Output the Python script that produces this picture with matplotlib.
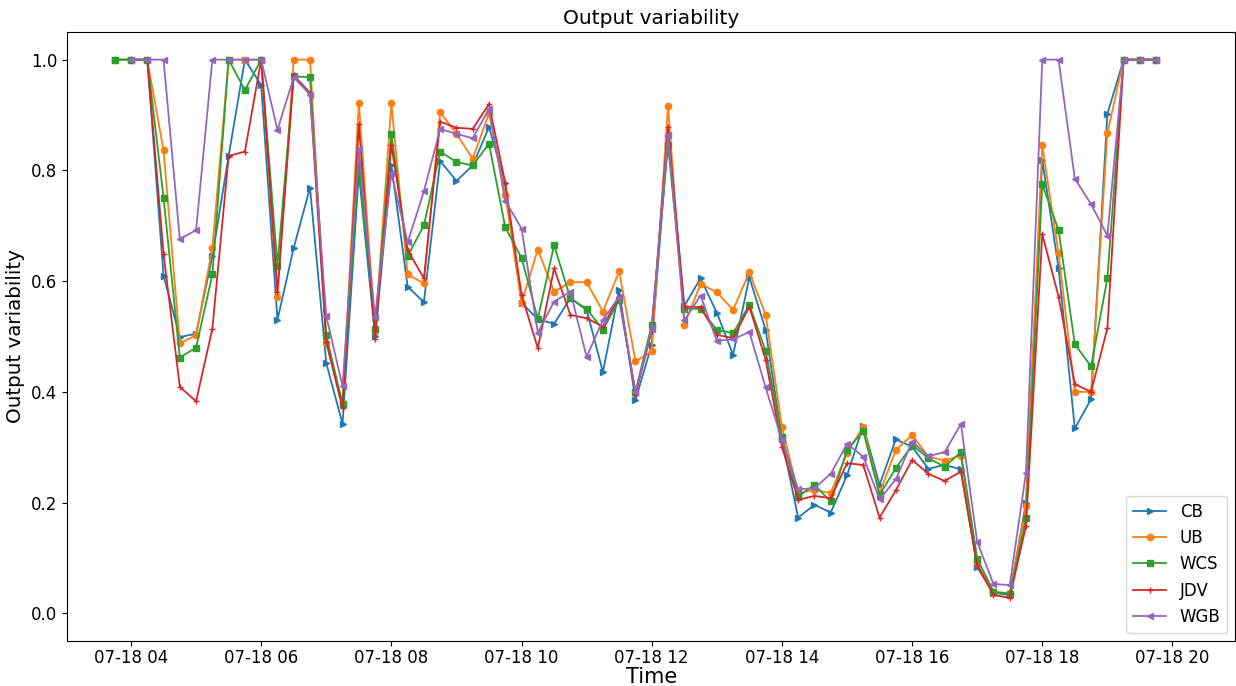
import numpy as np
import pandas as pd
import matplotlib
matplotlib.use("Agg")
import matplotlib.pyplot as plt
import matplotlib.dates as mdates

# 15-minute samples over the day
times = pd.date_range("2023-07-18 03:45", periods=65, freq="15min")

nan = np.nan
cb = [1.0, 1.0, 1.0, 0.610, 0.499, 0.505, 0.645, 0.826, 1.0, 0.954,
      0.530, 0.660, 0.769, 0.452, 0.342, 0.796, 0.500, 0.810, 0.590, 0.562,
      0.817, 0.781, 0.809, 0.878, 0.777, 0.561, 0.531, 0.523, 0.569, 0.548,
      0.436, 0.584, 0.385, 0.485, 0.860, 0.555, 0.605, 0.543, 0.467, 0.607,
      0.512, 0.314, 0.173, 0.196, 0.182, 0.249, 0.339, 0.232, 0.314, 0.301,
      0.261, 0.268, 0.260, 0.083, 0.037, 0.033, 0.200, 0.819, 0.624, 0.334,
      0.387, 0.902, 1.0, 1.0, 1.0]
ub = [1.0, 1.0, 1.0, 0.836, 0.488, 0.502, 0.660, 1.0, 1.0, 1.0,
      0.571, 1.0, 1.0, 0.488, 0.380, 0.922, 0.510, 0.921, 0.612, 0.596,
      0.905, 0.866, 0.821, 0.903, 0.756, 0.561, 0.657, 0.581, 0.598, 0.598,
      0.545, 0.618, 0.455, 0.473, 0.916, 0.521, 0.595, 0.580, 0.548, 0.616,
      0.539, 0.337, 0.217, 0.223, 0.217, 0.290, 0.337, 0.217, 0.295, 0.322,
      0.283, 0.276, 0.285, 0.090, 0.039, 0.036, 0.193, 0.845, 0.650, 0.400,
      0.400, 0.867, 1.0, 1.0, 1.0]
wcs = [1.0, 1.0, 1.0, 0.751, 0.462, 0.480, 0.612, 1.0, 0.945, 1.0,
       0.628, 0.970, 0.968, 0.502, 0.378, 0.810, 0.513, 0.866, 0.645, 0.701,
       0.834, 0.815, 0.809, 0.848, 0.697, 0.642, 0.532, 0.665, 0.569, 0.550,
       0.512, 0.566, 0.400, 0.521, 0.846, 0.550, 0.550, 0.512, 0.506, 0.557,
       0.474, 0.319, 0.211, 0.232, 0.202, 0.295, 0.329, 0.214, 0.262, 0.304,
       0.280, 0.265, 0.291, 0.099, 0.039, 0.035, 0.172, 0.775, 0.692, 0.486,
       0.446, 0.605, 1.0, 1.0, 1.0]
jdv = [nan, 1.0, 1.0, 0.649, 0.409, 0.383, 0.514, 0.826, 0.834, 1.0,
       0.580, 0.972, 0.940, 0.490, 0.370, 0.883, 0.496, 0.846, 0.656, 0.605,
       0.888, 0.877, 0.875, 0.920, 0.777, 0.575, 0.479, 0.623, 0.539, 0.533,
       0.518, 0.572, 0.395, 0.510, 0.879, 0.554, 0.553, 0.503, 0.497, 0.554,
       0.458, 0.301, 0.205, 0.212, 0.208, 0.271, 0.268, 0.173, 0.222, 0.277,
       0.252, 0.239, 0.256, 0.087, 0.033, 0.028, 0.158, 0.685, 0.572, 0.414,
       0.400, 0.515, 1.0, 1.0, 1.0]
wgb = [nan, 1.0, 1.0, 1.0, 0.676, 0.692, 1.0, 1.0, 1.0, 1.0,
       0.873, 0.968, 0.937, 0.537, 0.410, 0.838, 0.535, 0.795, 0.670, 0.762,
       0.875, 0.866, 0.858, 0.911, 0.745, 0.695, 0.507, 0.563, 0.581, 0.463,
       0.530, 0.572, 0.400, 0.513, 0.864, 0.529, 0.574, 0.492, 0.495, 0.508,
       0.408, 0.313, 0.224, 0.226, 0.252, 0.306, 0.283, 0.206, 0.242, 0.310,
       0.284, 0.291, 0.342, 0.129, 0.053, 0.051, 0.254, 1.0, 1.0, 0.785,
       0.739, 0.682, 1.0, 1.0, 1.0]

series = [("CB", cb, ">"), ("UB", ub, "o"), ("WCS", wcs, "s"),
          ("JDV", jdv, "+"), ("WGB", wgb, "<")]

fig = plt.figure(figsize=(12.36, 6.86), dpi=100)
ax = fig.add_axes([0.0542, 0.0656, 0.9453, 0.8878])

for name, vals, mk in series:
    ax.plot(times, vals, marker=mk, markersize=4.5, linewidth=1.3, label=name)

ax.set_xlim(pd.Timestamp("2023-07-18 03:01"), pd.Timestamp("2023-07-18 20:58"))
ax.set_ylim(-0.05, 1.05)
ax.xaxis.set_major_locator(mdates.HourLocator(byhour=range(0, 24, 2)))
ax.xaxis.set_major_formatter(mdates.DateFormatter("%m-%d %H"))
ax.tick_params(labelsize=12)
ax.tick_params(axis="x", pad=2)

ax.set_title("Output variability", fontsize=14.5)
ax.set_xlabel("Time", fontsize=15, labelpad=0)
ax.set_ylabel("Output variability", fontsize=14.3)
ax.legend(loc="lower right", fontsize=12)

fig.savefig("out.png", dpi=100)
